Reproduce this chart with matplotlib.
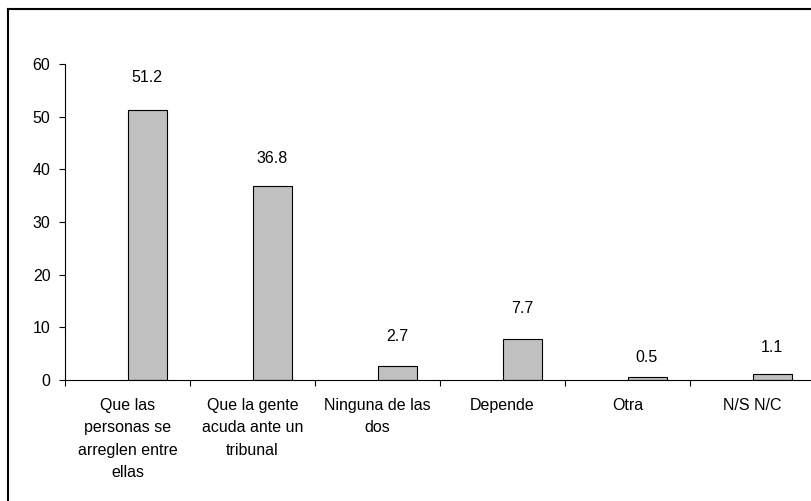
import matplotlib
matplotlib.use("Agg")
import matplotlib.pyplot as plt
from matplotlib.lines import Line2D

plt.rcParams["font.family"] = ["Liberation Sans", "DejaVu Sans"]

categorias = [
    "Que las\npersonas se\narreglen entre\nellas",
    "Que la gente\nacuda ante un\ntribunal",
    "Ninguna de las\ndos",
    "Depende",
    "Otra",
    "N/S N/C",
]
valores = [51.2, 36.8, 2.7, 7.7, 0.5, 1.1]
yticks = [0, 10, 20, 30, 40, 50, 60]

FS = 11.5
# separación (px) de cada etiqueta sobre su barra, como en el original
desplaz = [33, 28, 29, 31, 20, 27]

fig = plt.figure(figsize=(8.11, 5.01), dpi=100)
ax = fig.add_axes([65 / 811, 1 - 380 / 501, 1 - 65 / 811, (380 - 64) / 501])

pos = list(range(len(valores)))
ax.bar(pos, valores, width=0.312, align="edge", color="#C0C0C0",
       edgecolor="black", linewidth=0.8)

for x, v, d in zip(pos, valores, desplaz):
    ax.annotate(f"{v:.1f}", xy=(x + 0.156, v), xytext=(0, d),
                textcoords="offset pixels", ha="center", va="center",
                fontsize=FS)

ax.set_xlim(-0.5, (811 - 127.5) / 125)
ax.set_ylim(0, 60)
ax.set_yticks(yticks)
ax.tick_params(axis="y", direction="out", length=4.5, width=0.8, pad=6,
               labelsize=FS)

ax.set_xticks([p - 0.5 for p in pos])
ax.set_xticklabels([])
ax.set_xticks(pos, minor=True)
ax.set_xticklabels(categorias, minor=True, fontsize=FS, linespacing=1.62)
ax.tick_params(axis="x", which="major", direction="out", length=4, width=0.8)
ax.tick_params(axis="x", which="minor", length=0, pad=13)

for s in ["top", "right"]:
    ax.spines[s].set_visible(False)
ax.spines["left"].set_linewidth(0.8)
ax.spines["bottom"].set_linewidth(0.8)

# marco exterior (recortado a la derecha y abajo)
fig.add_artist(Line2D([8 / 811, 1.0], [1 - 9 / 501, 1 - 9 / 501],
                      color="black", linewidth=1.5, transform=fig.transFigure))
fig.add_artist(Line2D([8 / 811, 8 / 811], [1 - 9 / 501, 0.0],
                      color="black", linewidth=1.5, transform=fig.transFigure))

fig.savefig("out.png", dpi=100)
plt.close(fig)
